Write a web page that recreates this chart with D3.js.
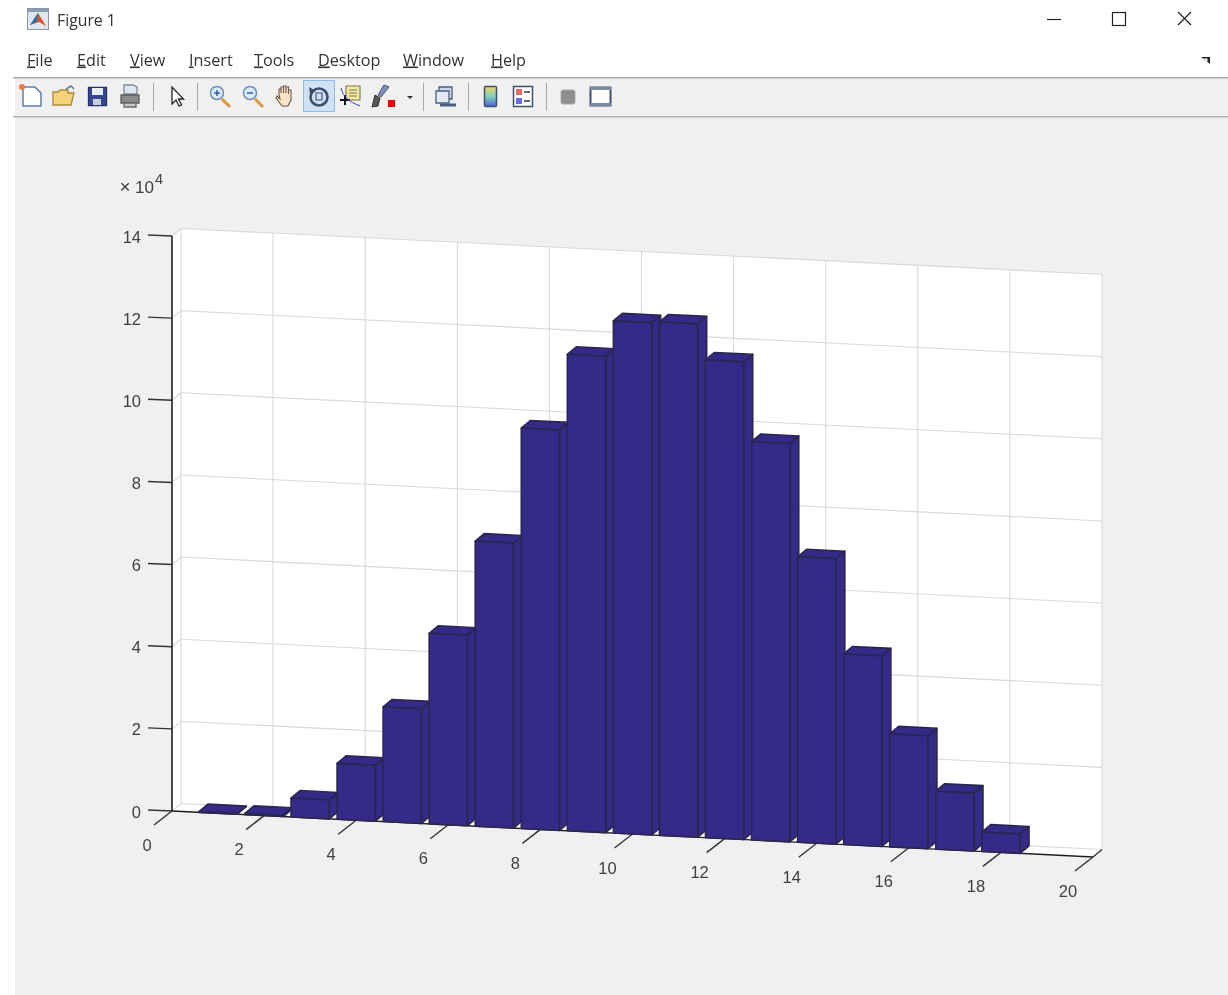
<!DOCTYPE html>
<html><head><meta charset="utf-8">
<script src="https://cdn.jsdelivr.net/npm/d3@7"></script>
<style>html,body{margin:0;padding:0;background:#fff;overflow:hidden}svg{display:block;filter:blur(.4px)}</style>
</head><body><div id="c"></div>
<script>
const categories=[1,2,3,4,5,6,7,8,9,10,11,12,13,14,15,16,17,18];
const counts=[200,300,4600,13600,27900,46400,69400,97500,116000,124700,125000,116300,97000,69500,46400,27500,14100,4700];
const xTicks=[0,2,4,6,8,10,12,14,16,18,20];
const yTicks=[0,2,4,6,8,10,12,14];
const menuItems=["File","Edit","View","Insert","Tools","Desktop","Window","Help"];
const menuX=[27,77,130,189,254,318,403,491];
const windowTitle="Figure 1";
const exponentBase="10", exponentPower="4";

const W=1228,H=995;
const svg=d3.select("#c").append("svg").attr("width",W).attr("height",H);
// projection: x along the sloping front edge, z up, d into the depth
const px=d3.scaleLinear().domain([0,20]).range([172,1093]);
const py=d3.scaleLinear().domain([0,20]).range([811,857]);
const pz=d3.scaleLinear().domain([0,140000]).range([0,-575]);
const depth=d3.scaleLinear().domain([0,1]).range([0,9]);
const depthY=d3.scaleLinear().domain([0,1]).range([0,-7.5]);
const P=(x,z=0,d=0)=>[px(x)+depth(d),py(x)+pz(z)+depthY(d)];
const poly=pts=>pts.map(p=>p.map(v=>v.toFixed(2)).join(",")).join(" ");
const seg=(g,a,b,stroke,w)=>g.append("line").attr("x1",a[0]).attr("y1",a[1]).attr("x2",b[0]).attr("y2",b[1]).attr("stroke",stroke).attr("stroke-width",w);
const zMax=140000;

// ---------- window chrome ----------
svg.append("rect").attr("width",W).attr("height",H).attr("fill","#fff");
svg.append("rect").attr("x",15).attr("y",78).attr("width",W-15).attr("height",H-78).attr("fill","#f0f0f0");
svg.append("rect").attr("x",13).attr("y",77).attr("width",W-13).attr("height",1.5).attr("fill","#a9a9a9");
svg.append("rect").attr("x",13).attr("y",116).attr("width",W-13).attr("height",1.5).attr("fill","#b4b4b4");
const uiFont="'Open Sans','Noto Sans',sans-serif";
svg.append("text").attr("x",57).attr("y",25.5).attr("font-family",uiFont).attr("font-size",15.8).attr("fill","#333").text(windowTitle);
const ic=svg.append("g");
ic.append("rect").attr("x",27.5).attr("y",8.5).attr("width",21).attr("height",21).attr("fill","#dfe6ee").attr("stroke","#8a97a6");
ic.append("rect").attr("x",28).attr("y",9).attr("width",20).attr("height",3).attr("fill","#8a9db3");
ic.append("polygon").attr("points","30,25 38,13 46,26 39,22").attr("fill","#d9541e");
ic.append("polygon").attr("points","30,25 38,13 37,22").attr("fill","#2a6fb5");
const wc=svg.append("g").attr("fill","none").attr("stroke","#222").attr("stroke-width",1.2);
wc.append("line").attr("x1",1047).attr("x2",1061).attr("y1",19.5).attr("y2",19.5);
wc.append("rect").attr("x",1112.5).attr("y",12.5).attr("width",13).attr("height",13);
wc.append("line").attr("x1",1178).attr("x2",1191).attr("y1",12).attr("y2",25);
wc.append("line").attr("x1",1191).attr("x2",1178).attr("y1",12).attr("y2",25);
svg.selectAll("text.menu").data(menuItems).join("text").attr("class","menu")
 .attr("x",(d,i)=>menuX[i]).attr("y",65.5).attr("font-family",uiFont).attr("font-size",16.2).attr("fill","#333")
 .each(function(d){const t=d3.select(this);
   t.append("tspan").attr("text-decoration","underline").text(d[0]);
   t.append("tspan").text(d.slice(1));});
svg.append("polygon").attr("points","1201,57 1210,57 1210,64").attr("fill","#222");
svg.append("polygon").attr("points","1203,58.5 1207.5,58.5 1207.5,62").attr("fill","#fff");

// ---------- toolbar ----------
const tb=svg.append("g");
[153,197,423,468,546].forEach(x=>tb.append("rect").attr("x",x).attr("y",83).attr("width",1).attr("height",28).attr("fill","#a8a8a8"));
tb.append("rect").attr("x",303.5).attr("y",80.5).attr("width",31).attr("height",31).attr("fill","#cfe2f5").attr("stroke","#8dbbe6");
const path=(d,fill,stroke,w=1.3)=>tb.append("path").attr("d",d).attr("fill",fill).attr("stroke",stroke).attr("stroke-width",w);
// new
path("M23,87h12l6,6v13h-18z","#fff","#5d7fa6",1.5);
tb.append("circle").attr("cx",22).attr("cy",87).attr("r",3).attr("fill","#ef7b3b");
// open
path("M53,92h5l2-2h8v3h6l-3,12h-18z","#f3d27a","#a98a3c");
path("M66,89l5-3l3,3","none","#5d7fa6",1.5);
// save
path("M88.5,87.5h18v18h-18z","#36478f","#26336b");
path("M92,88h11v7h-11z","#e8edf6","none");
path("M93,99h8v6h-8z","#c8cfdd","none");
// print
path("M124,94h13v-7l-4-2h-9z","#dfe6ee","#7f8a96");
path("M121,95h18v8h-18z","#8b8b8b","#5c5c5c");
path("M124,103h12v4h-12z","#c9c9c9","#6a6a6a");
// pointer
path("M172,87v17l4-4l3,6l2.5-1l-3-6h5z","#fff","#222");
// zoom in / out
[[216,"+"],[249,"-"]].forEach(([x,s])=>{
  tb.append("line").attr("x1",x+6).attr("y1",99).attr("x2",x+14).attr("y2",107).attr("stroke","#d79a3a").attr("stroke-width",3);
  tb.append("circle").attr("cx",x+1).attr("cy",93).attr("r",6.5).attr("fill","#dcebfa").attr("stroke","#6f8fb5").attr("stroke-width",1.5);
  tb.append("line").attr("x1",x-2).attr("y1",93).attr("x2",x+4).attr("y2",93).attr("stroke","#345c9a").attr("stroke-width",1.5);
  if(s==="+")tb.append("line").attr("x1",x+1).attr("y1",90).attr("x2",x+1).attr("y2",96).attr("stroke","#345c9a").attr("stroke-width",1.5);
});
// hand
path("M279,94v-5h2v4v-6h2.5v6v-7h2.5v7v-6h2.5v7v-4h2.5v10l-3,6h-6l-6-8l1-2l3,3z","#fbe3c8","#6a5a4c",1.1);
// rotate
tb.append("circle").attr("cx",319).attr("cy",97).attr("r",8.5).attr("fill","none").attr("stroke","#3d4f6b").attr("stroke-width",2.6);
path("M309,87l1,7l6-3z","#3d4f6b","none");
path("M316,93h6v7h-6z","none","#3d4f6b",1.1);
// data cursor
path("M346,86h14v14h-14z","#f2e9a9","#7d7a40",1.1);
path("M349,90h8M349,93h8M349,96h8","none","#7d7a40",1);
path("M340,100h10M345,95v10","none","#111",2);
path("M341,88q2,12 19,18","none","#3b3bd0",1);
// brush
path("M384,85l5,2l-8,10l-3-2z","#7f8fb8","#4a5578",1);
path("M372,107l3-12l5,3l-2,8z","#555","#333",1);
tb.append("rect").attr("x",388).attr("y",100).attr("width",7).attr("height",7).attr("fill","#ee0000");
tb.append("polygon").attr("points","407,96 413,96 410,99").attr("fill","#333");
// link
path("M439,87h13v12h-13z","#cfd8e6","#4a5f80",1.3);
path("M436,91h13v12h-13z","#e3e9f2","#4a5f80",1.3);
path("M440,105h16","none","#4a5f80",3);
// colorbar
const cb=svg.append("defs").append("linearGradient").attr("id","cbg").attr("x1",0).attr("x2",0).attr("y1",0).attr("y2",1);
[["0","#f5d36a"],["0.5","#7fd0b8"],["1","#4a63d8"]].forEach(s=>cb.append("stop").attr("offset",s[0]).attr("stop-color",s[1]));
tb.append("rect").attr("x",484.5).attr("y",86.5).attr("width",12).attr("height",20).attr("rx",1).attr("fill","url(#cbg)").attr("stroke","#3f4f6e").attr("stroke-width",1.5);
// legend
path("M513.5,86.5h19v20h-19z","#fff","#3f4f6e",1.5);
tb.append("rect").attr("x",516).attr("y",89).attr("width",6).attr("height",6).attr("fill","#e36a6a");
tb.append("rect").attr("x",516).attr("y",98).attr("width",6).attr("height",6).attr("fill","#6a6ae3");
path("M524,92h6M524,101h6","none","#333",1.5);
// hide / show tools
tb.append("rect").attr("x",561).attr("y",90).attr("width",14).attr("height",14).attr("rx",2).attr("fill","#8f8f8f").attr("stroke","#a9a9a9");
path("M590.5,87.5h20v18h-20z","#fff","#3f4f6e",2);
path("M590,87h21v3h-21zM590,103h21v3h-21z","#7b8aa3","none");

// ---------- axes box ----------
const ax=svg.append("g");
ax.append("polygon").attr("points",poly([P(0,zMax),P(0,zMax,1),P(20,zMax,1),P(20,0,1),P(20,0),P(0,0)])).attr("fill","#fff");
const grid="#d9d9d9", gridW=1.1;
xTicks.filter(d=>d>0&&d<20).forEach(t=>{
  seg(ax,P(t,0,1),P(t,zMax,1),grid,gridW);
  seg(ax,P(t,0),P(t,0,1),grid,gridW);
});
yTicks.map(d=>d*10000).forEach(z=>{
  seg(ax,P(0,z,1),P(20,z,1),grid,gridW);
  seg(ax,P(0,z,0),P(0,z,1),grid,gridW);
});
seg(ax,P(0,0,1),P(0,zMax,1),grid,gridW);
seg(ax,P(20,0,1),P(20,zMax,1),grid,gridW);

// ticks and axis lines
const axisColor="#1f1f1f";
const tickDx=-18,tickDy=14;
xTicks.forEach(t=>{
  const a=P(t,0);
  seg(ax,a,[a[0]+tickDx,a[1]+tickDy],"#333",1.4);
});
seg(ax,P(20,0),P(20,0,1),"#333",1.4);
yTicks.map(d=>d*10000).forEach(z=>{
  const a=P(0,z);
  seg(ax,[a[0]-24,a[1]-1],a,"#333",1.4);
});
seg(ax,P(0,0),P(20,0),axisColor,1.4);
seg(ax,P(0,0),P(0,zMax),axisColor,1.6);

// ---------- bars ----------
const barW=0.415, d0=0, d1=1;
const barFill="#352a87", barEdge="#2b2650";
const bars=svg.append("g").selectAll("g").data(categories.map((c,i)=>({c,v:counts[i]}))).join("g")
  .attr("fill",barFill).attr("stroke",barEdge).attr("stroke-width",1.6).attr("stroke-linejoin","round");
bars.append("polygon").attr("points",d=>poly([P(d.c+barW,0,d0),P(d.c+barW,0,d1),P(d.c+barW,d.v,d1),P(d.c+barW,d.v,d0)]));
bars.append("polygon").attr("points",d=>poly([P(d.c-barW,d.v,d0),P(d.c-barW,d.v,d1),P(d.c+barW,d.v,d1),P(d.c+barW,d.v,d0)]));
bars.append("polygon").attr("points",d=>poly([P(d.c-barW,0,d0),P(d.c+barW,0,d0),P(d.c+barW,d.v,d0),P(d.c-barW,d.v,d0)]));

// ---------- labels ----------
const tickFont="'Liberation Sans',Arial,sans-serif";
const lab=svg.append("g").attr("font-family",tickFont).attr("font-size",16.5).attr("fill","#404040");
lab.selectAll("text.x").data(xTicks).join("text").attr("class","x")
  .attr("x",d=>P(d)[0]-25).attr("y",d=>P(d)[1]+39.5).attr("text-anchor","middle").text(d=>d);
lab.selectAll("text.y").data(yTicks).join("text").attr("class","y")
  .attr("x",141).attr("y",d=>P(0,d*10000)[1]+6.5).attr("text-anchor","end").text(d=>d);
lab.append("text").attr("x",119.5).attr("y",193).attr("font-size",19).text("\u00d7");
lab.append("text").attr("x",135).attr("y",192.5).attr("font-size",17).text(exponentBase);
lab.append("text").attr("x",155).attr("y",184).attr("font-size",14.5).text(exponentPower);
</script></body></html>
